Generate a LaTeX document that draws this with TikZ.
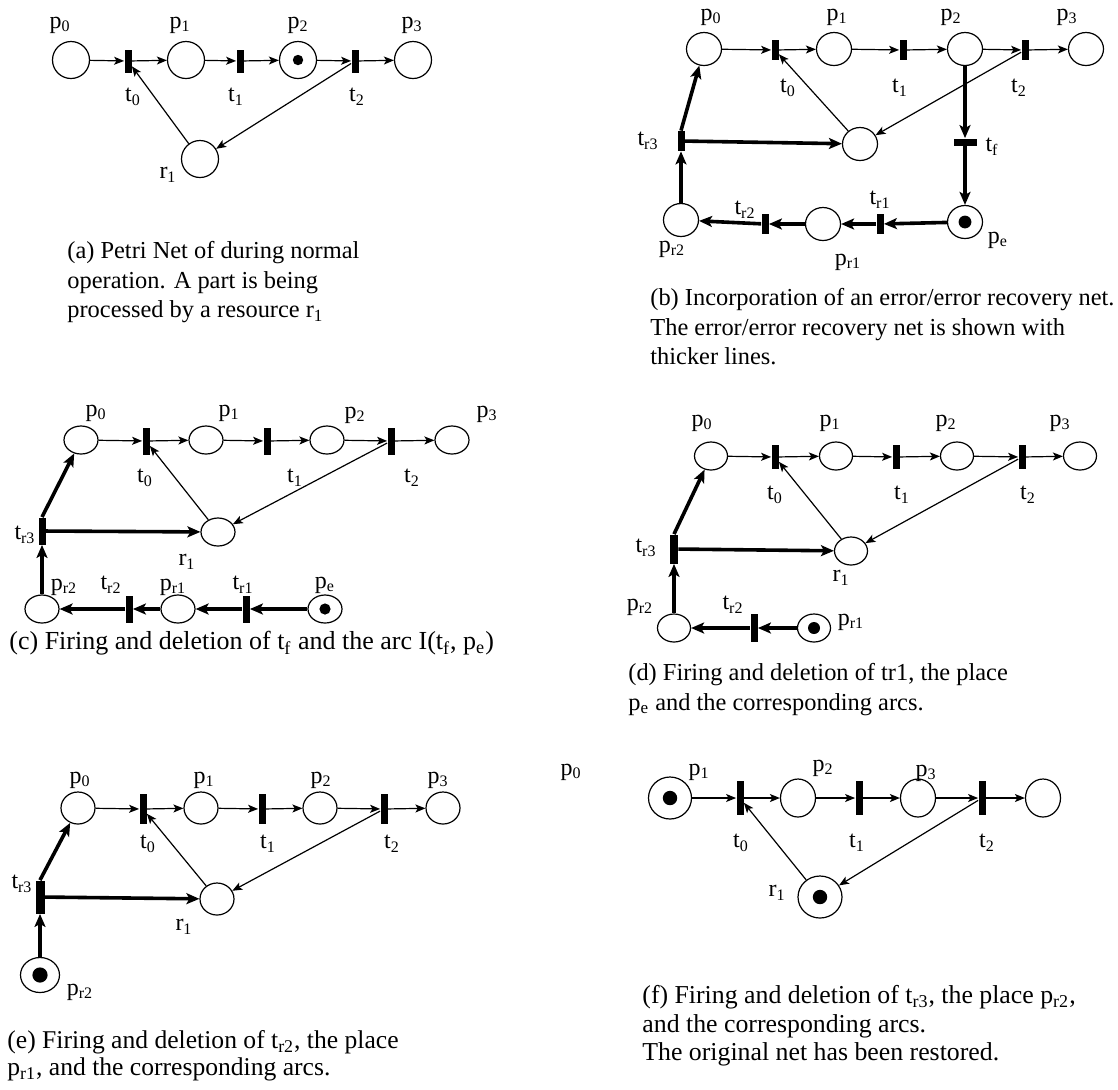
\documentclass[tikz,border=0pt]{standalone}
\usepackage{fontspec}
\setmainfont{Liberation Serif}
\usetikzlibrary{arrows.meta,shapes.geometric}
\newcommand\nlab[2]{#1\textsubscript{#2}}

\begin{document}
\begin{tikzpicture}[x=0.5pt,y=-0.5pt,>={Stealth[length=5pt,width=4pt,inset=1.2pt]},
    place/.style={draw,ellipse,line width=0.6pt,inner sep=0pt,minimum width=18.5pt,minimum height=18.5pt},
    token/.style={place,path picture={\fill (path picture bounding box.center) circle (#1);}},
    token/.default=2.6pt,
    trans/.style={fill,inner sep=0pt,minimum width=3.5pt,minimum height=11.5pt},
    flow/.style={->,line width=0.6pt},
    rflow/.style={-{Stealth[length=6.5pt,width=5.5pt,inset=1.5pt]},line width=1.8pt},
    lab/.style={inner sep=0pt,font=\fontsize{12}{14}\selectfont},
    subcap/.style={anchor=north west,inner sep=0pt,align=left,font=\fontsize{12.2}{14.75}\selectfont}]
    \useasboundingbox (0,0) rectangle (1118,1089);

    % (a) normal operation
    \foreach \i/\x/\lx/\s in {0/71/60/place,1/186/180/place,2/298/298/token,3/413/412/place}{
        \node[\s] (ap\i) at (\x,60) {};
        \node[lab] (aLp\i) at (\lx,25) {\nlab{p}{\i}};
    }
    \foreach \i/\x/\lx in {0/128/133,1/240/236,2/355/357}{
        \node[trans] (at\i) at (\x,61) {};
        \node[lab] (aLt\i) at (\lx,97) {\nlab{t}{\i}};
    }
    \foreach \i [count=\j] in {0,1,2}{\draw[flow] (ap\i) -- (at\i); \draw[flow] (at\i) -- (ap\j);}
    \node[place] (ar1) at (200,159) {};
    \node[lab] (aLr1) at (168,175) {\nlab{r}{1}};
    \draw[flow] (ar1) -- (at0);
    \draw[flow] (at2) -- (ar1);
    \node[subcap] (acap) at (67,241) {(a) Petri Net of during normal\\operation. A part is being\\processed by a resource \nlab{r}{1}};

    % (b) error/error recovery net added
    \begin{scope}[place/.append style={minimum width=17.5pt,minimum height=16.5pt},trans/.append style={minimum height=10pt}]
    \foreach \i/\x/\lx in {0/704/711,1/834/837,2/965/951,3/1086/1067}{
        \node[place] (bp\i) at (\x,49) {};
        \node[lab] (bLp\i) at (\lx,17) {\nlab{p}{\i}};
    }
    \foreach \i/\x/\lx in {0/775/788,1/903/900,2/1025/1019}{
        \node[trans] (bt\i) at (\x,50) {};
        \node[lab] (bLt\i) at (\lx,88) {\nlab{t}{\i}};
    }
    \foreach \i [count=\j] in {0,1,2}{\draw[flow] (bp\i) -- (bt\i); \draw[flow] (bt\i) -- (bp\j);}
    \node[place] (br) at (860,144) {};
    \draw[flow] (br) -- (bt0);
    \draw[flow] (bt2) -- (br);
    \node[trans,minimum width=11.5pt,minimum height=3.5pt] (btf) at (965,142) {};
    \node[lab] (bLtf) at (992,147) {\nlab{t}{f}};
    \node[token=3.2pt] (bpe) at (965,222) {};
    \node[lab] (bLpe) at (998,240) {\nlab{p}{e}};
    \node[trans] (btr1) at (880,224) {};
    \node[lab] (bLtr1) at (880,200) {\nlab{t}{r1}};
    \node[place] (bpr1) at (823,224) {};
    \node[lab] (bLpr1) at (848,262) {\nlab{p}{r1}};
    \node[trans] (btr2) at (765,224) {};
    \node[lab] (bLtr2) at (745,210) {\nlab{t}{r2}};
    \node[place] (bpr2) at (681,220) {};
    \node[lab] (bLpr2) at (672,249) {\nlab{p}{r2}};
    \node[trans] (btr3) at (681,141) {};
    \node[lab] (bLtr3) at (648,141) {\nlab{t}{r3}};
    \foreach \a/\b in {bp2/btf,btf/bpe,bpe/btr1,btr1/bpr1,bpr1/btr2,btr2/bpr2,bpr2/btr3,btr3/br}{\draw[rflow] (\a) -- (\b);}
    \draw[rflow] (btr3.north) -- (bp0);
    \end{scope}
    \node[subcap] (bcap) at (650,288) {(b) Incorporation of an error/error recovery net.\\The error/error recovery net is shown with\\thicker lines.};

    % (c) t_f fired
    \begin{scope}[place/.append style={minimum width=17pt,minimum height=14pt},trans/.append style={minimum height=13.5pt}]
    \foreach \i/\x/\lx/\ly in {0/81/96/413,1/206/229/413,2/327/355/415,3/452/487/414}{
        \node[place] (cp\i) at (\x,440) {};
        \node[lab] (cLp\i) at (\lx,\ly) {\nlab{p}{\i}};
    }
    \foreach \i/\x/\lx in {0/146/145,1/267/295,2/391/412}{
        \node[trans] (ct\i) at (\x,441) {};
        \node[lab] (cLt\i) at (\lx,478) {\nlab{t}{\i}};
    }
    \foreach \i [count=\j] in {0,1,2}{\draw[flow] (cp\i) -- (ct\i); \draw[flow] (ct\i) -- (cp\j);}
    \node[place] (cr1) at (218,532) {};
    \node[lab] (cLr1) at (187,562) {\nlab{r}{1}};
    \draw[flow] (cr1) -- (ct0);
    \draw[flow] (ct2) -- (cr1);
    \node[trans] (ctr3) at (42,531) {};
    \node[lab] (cLtr3) at (25,535) {\nlab{t}{r3}};
    \node[place] (cpr2) at (42,609) {};
    \node[lab] (cLpr2) at (64,587) {\nlab{p}{r2}};
    \node[trans] (ctr2) at (129,609) {};
    \node[lab] (cLtr2) at (111,585) {\nlab{t}{r2}};
    \node[place] (cpr1) at (178,609) {};
    \node[lab] (cLpr1) at (173,587) {\nlab{p}{r1}};
    \node[trans] (ctr1) at (246,609) {};
    \node[lab] (cLtr1) at (243,585) {\nlab{t}{r1}};
    \node[token=2.8pt] (cpe) at (325,609) {};
    \node[lab] (cLpe) at (325,585) {\nlab{p}{e}};
    \foreach \a/\b in {cpe/ctr1,ctr1/cpr1,cpr1/ctr2,ctr2/cpr2,cpr2/ctr3,ctr3/cr1}{\draw[rflow] (\a) -- (\b);}
    \draw[rflow] (ctr3.north) -- (cp0);
    \end{scope}
    \node[subcap,font=\fontsize{13}{14.75}\selectfont] (ccap) at (9,631) {(c) Firing and deletion of \nlab{t}{f} and the arc I(\nlab{t}{f}, \nlab{p}{e})};

    % (d) t_r1 fired
    \begin{scope}[place/.append style={minimum width=16.5pt,minimum height=14pt},trans/.append style={minimum height=12pt}]
    \foreach \i/\x/\lx in {0/711/702,1/836/830,2/957/946,3/1080/1060}{
        \node[place] (dp\i) at (\x,456) {};
        \node[lab] (dLp\i) at (\lx,423) {\nlab{p}{\i}};
    }
    \foreach \i/\x/\lx in {0/775/775,1/896/902,2/1022/1028}{
        \node[trans] (dt\i) at (\x,457) {};
        \node[lab] (dLt\i) at (\lx,495) {\nlab{t}{\i}};
    }
    \foreach \i [count=\j] in {0,1,2}{\draw[flow] (dp\i) -- (dt\i); \draw[flow] (dt\i) -- (dp\j);}
    \node[place] (dr1) at (851,551) {};
    \node[lab] (dLr1) at (841,578) {\nlab{r}{1}};
    \draw[flow] (dr1) -- (dt0);
    \draw[flow] (dt2) -- (dr1);
    \node[trans,minimum width=4pt,minimum height=14.5pt] (dtr3) at (674,549) {};
    \node[lab] (dLtr3) at (646,548) {\nlab{t}{r3}};
    \node[place] (dpr2) at (674,628) {};
    \node[lab] (dLpr2) at (640,607) {\nlab{p}{r2}};
    \node[trans,minimum height=14pt] (dtr2) at (754,628) {};
    \node[lab] (dLtr2) at (733,605) {\nlab{t}{r2}};
    \node[token=3pt] (dpr1) at (814,628) {};
    \node[lab] (dLpr1) at (851,622) {\nlab{p}{r1}};
    \foreach \a/\b in {dpr1/dtr2,dtr2/dpr2,dpr2/dtr3,dtr3/dr1}{\draw[rflow] (\a) -- (\b);}
    \draw[rflow] (dtr3.north) -- (dp0);
    \end{scope}
    \node[subcap] (dcap) at (628,663) {(d) Firing and deletion of tr1, the place\\\nlab{p}{e} and the corresponding arcs.};

    % (e) t_r2 fired
    \begin{scope}[place/.append style={minimum width=17pt,minimum height=16pt},trans/.append style={minimum height=15pt}]
    \foreach \i/\x/\lx in {0/78/80,1/201/204,2/320/321,3/443/438}{
        \node[place] (ep\i) at (\x,808) {};
        \node[lab] (eLp\i) at (\lx,780) {\nlab{p}{\i}};
    }
    \foreach \i/\x/\lx in {0/143/148,1/262/268,2/384/392}{
        \node[trans] (et\i) at (\x,809) {};
        \node[lab] (eLt\i) at (\lx,844) {\nlab{t}{\i}};
    }
    \foreach \i [count=\j] in {0,1,2}{\draw[flow] (ep\i) -- (et\i); \draw[flow] (et\i) -- (ep\j);}
    \node[place] (er1) at (217,899) {};
    \node[lab] (eLr1) at (184,927) {\nlab{r}{1}};
    \draw[flow] (er1) -- (et0);
    \draw[flow] (et2) -- (er1);
    \node[trans,minimum width=4.5pt,minimum height=16.5pt] (etr3) at (40,897) {};
    \node[lab] (eLtr3) at (22,884) {\nlab{t}{r3}};
    \node[token=3.8pt,minimum width=19.5pt,minimum height=17.5pt] (epr2) at (40,975) {};
    \node[lab] (eLpr2) at (80,992) {\nlab{p}{r2}};
    \foreach \a/\b in {epr2/etr3,etr3/er1}{\draw[rflow] (\a) -- (\b);}
    \draw[rflow] (etr3.north) -- (ep0);
    \end{scope}
    \node[subcap,font=\fontsize{12.8}{13.5}\selectfont] (ecap) at (7,1030) {(e) Firing and deletion of \nlab{t}{r2}, the place\\\nlab{p}{r1}, and the corresponding arcs.};

    % (f) t_r3 fired, original net back
    \begin{scope}[place/.append style={minimum width=17.5pt,minimum height=19pt},trans/.append style={minimum height=17pt}]
    \node[lab] (fLp0) at (571,772) {\nlab{p}{0}};
    \node[token=3.6pt,minimum width=21.5pt,minimum height=21pt] (fp0) at (670,798) {};
    \foreach \i/\x in {1/798,2/918,3/1043}{\node[place] (fp\i) at (\x,798) {};}
    \foreach \n/\lx/\ly in {1/699/772,2/823/768,3/926/773}{\node[lab] (fLp\n) at (\lx,\ly) {\nlab{p}{\n}};}
    \foreach \i/\x/\lx in {0/740/741,1/859/857,2/982/987}{
        \node[trans] (ft\i) at (\x,798) {};
        \node[lab] (fLt\i) at (\lx,843) {\nlab{t}{\i}};
    }
    \foreach \i [count=\j] in {0,1,2}{\draw[flow] (fp\i) -- (ft\i); \draw[flow] (ft\i) -- (fp\j);}
    \node[token=3.6pt,minimum width=22pt,minimum height=21pt] (fr1) at (820,897) {};
    \node[lab] (fLr1) at (777,893) {\nlab{r}{1}};
    \draw[flow] (fr1) -- (ft0);
    \draw[flow] (ft2) -- (fr1);
    \end{scope}
    \node[subcap,font=\fontsize{12.9}{14.25}\selectfont] (fcap) at (642,985) {(f) Firing and deletion of \nlab{t}{r3}, the place \nlab{p}{r2},\\and the corresponding arcs.\\The original net has been restored.};
\end{tikzpicture}
\end{document}
